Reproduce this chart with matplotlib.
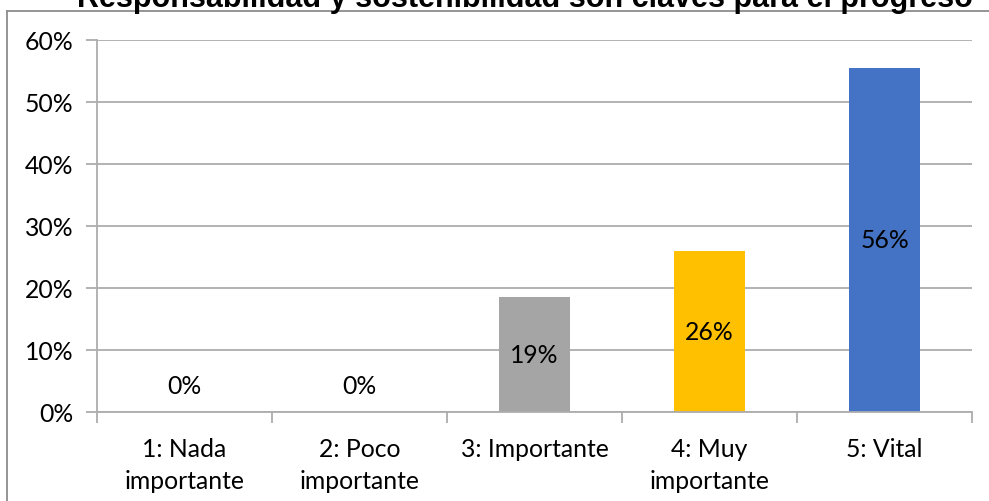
import matplotlib.pyplot as plt
from matplotlib.lines import Line2D
from matplotlib.ticker import FuncFormatter, FixedLocator, NullFormatter

plt.rcParams["font.family"] = ["Lato", "DejaVu Sans"]

categories = ["1: Nada\nimportante", "2: Poco\nimportante", "3: Importante",
              "4: Muy\nimportante", "5: Vital"]
shares = [0.0, 0.0, 0.1852, 0.2593, 0.5556]
colors = ["#A5A5A5", "#A5A5A5", "#A5A5A5", "#FFC000", "#4472C4"]
title = "Responsabilidad y sostenibilidad son claves para el progreso"

W, H = 989, 502
fs = 17.8
fig = plt.figure(figsize=(W / 100, H / 100), dpi=100)
ax = fig.add_axes([97 / W, (H - 413) / H, (972 - 97) / W, (413 - 41) / H])

grid_c = "#ADADAD"
x = range(len(categories))
ax.bar(x, shares, width=0.405, color=colors, zorder=3)

for i, v in enumerate(shares):
    label = f"{v * 100:.0f}%"
    if v == 0:
        ax.annotate(label, (i, 0), xytext=(0, 26), textcoords="offset pixels",
                    ha="center", va="center", fontsize=fs, color="black")
    else:
        ax.text(i, v / 2, label, ha="center", va="center", fontsize=fs,
                color="black", zorder=4)

ax.set_xlim(-0.5, len(categories) - 0.5)
ax.set_ylim(0, 0.6)
ax.set_yticks([i / 10 for i in range(7)])
ax.yaxis.set_major_formatter(FuncFormatter(lambda v, p: f"{v * 100:.0f}%"))
ax.yaxis.grid(True, color=grid_c, lw=1.3, zorder=0)

ax.xaxis.set_major_locator(FixedLocator([i - 0.5 for i in range(len(categories) + 1)]))
ax.xaxis.set_major_formatter(NullFormatter())
ax.xaxis.set_minor_locator(FixedLocator(list(x)))
ax.set_xticklabels(categories, minor=True, linespacing=1.45, va="top")
ax.tick_params(axis="x", which="minor", length=0, pad=18, labelsize=fs)
ax.tick_params(axis="x", which="major", length=8, width=1.3, color=grid_c)
ax.tick_params(axis="y", length=8, width=1.3, color=grid_c, labelsize=fs, pad=9)

for s in ["top", "right"]:
    ax.spines[s].set_visible(False)
for s in ["left", "bottom"]:
    ax.spines[s].set_color(grid_c)
    ax.spines[s].set_linewidth(1.3)
    ax.spines[s].set_zorder(5)

# chart frame, only top and left edges fall inside the image
fig.add_artist(Line2D([7 / W, 1], [1 - 12 / H, 1 - 12 / H], color="#8C8C8C", lw=1.3))
fig.add_artist(Line2D([7 / W, 7 / W], [0, 1 - 12 / H], color="#8C8C8C", lw=1.3))

fig.text(525 / W, 1 - 7 / H, title, ha="center", va="baseline", fontsize=22,
         fontweight="bold", family="Liberation Sans")

fig.savefig("out.png", dpi=100)
